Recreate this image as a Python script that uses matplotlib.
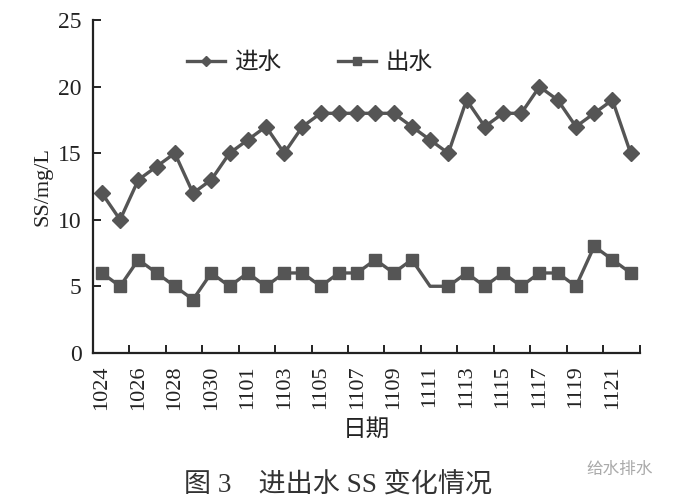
import numpy as np
import matplotlib
matplotlib.use("Agg")
import matplotlib.pyplot as plt

plt.rcParams['font.family'] = ['Liberation Serif', 'Noto Sans CJK SC', 'DejaVu Sans']

dates = ["1024", "1025", "1026", "1027", "1028", "1029", "1030", "1031",
         "1101", "1102", "1103", "1104", "1105", "1106", "1107", "1108",
         "1109", "1110", "1111", "1112", "1113", "1114", "1115", "1116",
         "1117", "1118", "1119", "1120", "1121", "1122"]
ss_in = [12, 10, 13, 14, 15, 12, 13, 15, 16, 17, 15, 17, 18, 18, 18, 18,
         18, 17, 16, 15, 19, 17, 18, 18, 20, 19, 17, 18, 19, 15]
ss_out = [6, 5, 7, 6, 5, 4, 6, 5, 6, 5, 6, 6, 5, 6, 6, 7,
          6, 7, 5, 5, 6, 5, 6, 5, 6, 6, 5, 8, 7, 6]

color = "#555555"
x = np.arange(len(dates))

fig = plt.figure(figsize=(6.77, 5.04), dpi=100)
ax = fig.add_axes([0.137, 0.300, 0.808, 0.660])

ax.plot(x, ss_in, color=color, lw=2.4, marker="D", ms=8, label="进水")
# the 1111 point of the outflow has no marker in the original
marks = [i for i in range(len(x)) if i != 18]
ax.plot(x, ss_out, color=color, lw=2.4, marker="s", ms=8,
        markevery=marks, label="出水")

ax.set_xlim(-0.5, len(x) - 0.5)
ax.set_ylim(0, 25)
ax.set_yticks([0, 5, 10, 15, 20, 25])
ax.set_xticks(x[::2])
ax.set_xticklabels(dates[::2], rotation=90)
ax.set_xticks(np.arange(1.5, len(x), 2), minor=True)

for s in ["top", "right"]:
    ax.spines[s].set_visible(False)
for s in ["left", "bottom"]:
    ax.spines[s].set_linewidth(1.6)
    ax.spines[s].set_color("#222222")

ax.tick_params(axis="y", direction="in", length=6, width=1.4, labelsize=17,
               pad=8, colors="#222222")
ax.tick_params(axis="x", which="major", length=0, labelsize=16, pad=9,
               colors="#222222")
ax.tick_params(axis="x", which="minor", direction="in", length=6, width=1.4,
               colors="#222222")

ax.set_ylabel("SS/mg/L", fontsize=16, labelpad=4, color="#222222")
ax.set_xlabel("日期", fontsize=17, labelpad=6, color="#222222",
              family=['Noto Sans CJK SC'])

leg = ax.legend(loc="upper left", bbox_to_anchor=(0.133, 0.97), ncol=2,
                frameon=False, markerscale=0.7,
                handlelength=1.6, handletextpad=0.4, columnspacing=2.4,
                prop={'family': ['Noto Sans CJK SC'], 'size': 17})
for t in leg.get_texts():
    t.set_color("#222222")

fig.text(0.50, 0.037, "图 3　进出水 SS 变化情况", ha="center", va="center",
         fontsize=19.5, color="#333333")
fig.text(0.915, 0.068, "给水排水", ha="center", va="center", fontsize=12,
         color="#aaaaaa", family=['Noto Sans CJK SC'])

fig.savefig("out.png", dpi=100)
